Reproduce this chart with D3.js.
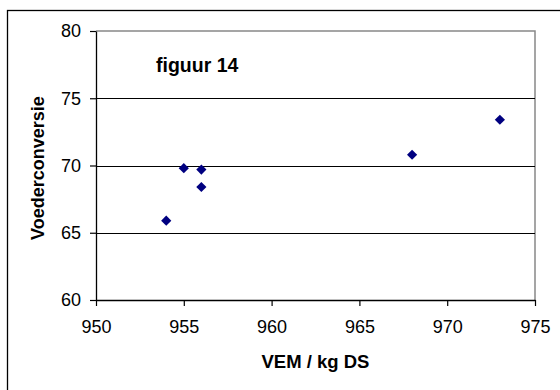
<!DOCTYPE html>
<html>
<head>
<meta charset="utf-8">
<script src="https://cdn.jsdelivr.net/npm/d3@7"></script>
<style>
  body { margin: 0; background: #fff; }
  svg { display: block; font-family: "Liberation Sans", Arial, sans-serif; }
</style>
</head>
<body>
<div id="root"></div>
<script>
// Data (figuur 14)
const vemValues = [954, 955, 956, 956, 968, 973];
const conversieValues = [65.9, 69.8, 69.7, 68.4, 70.8, 73.4];
const xTicks = [950, 955, 960, 965, 970, 975];
const yTicks = [60, 65, 70, 75, 80];
const gridValues = [65, 70, 75];

const width = 560;
const height = 390;
const plot = { left: 96, right: 535, top: 31, bottom: 300 };

const svg = d3.select('#root')
  .append('svg')
  .attr('width', width)
  .attr('height', height);

// outer chart border, runs off the right and bottom edge
svg.append('rect')
  .attr('x', 7.5)
  .attr('y', 10.5)
  .attr('width', 600)
  .attr('height', 420)
  .attr('fill', 'none')
  .attr('stroke', '#000')
  .attr('stroke-width', 1.3);

const x = d3.scaleLinear().domain([950, 975]).range([plot.left, plot.right]);
const y = d3.scaleLinear().domain([60, 80]).range([plot.bottom, plot.top]);

// plot area frame (top & right are grey)
svg.append('path')
  .attr('d', `M${plot.left},${plot.top}H${plot.right}V${plot.bottom}`)
  .attr('fill', 'none')
  .attr('stroke', '#888')
  .attr('stroke-width', 1.5);

// horizontal gridlines
svg.append('g')
  .selectAll('line')
  .data(gridValues)
  .join('line')
  .attr('x1', plot.left)
  .attr('x2', plot.right)
  .attr('y1', d => Math.round(y(d)) + 0.5)
  .attr('y2', d => Math.round(y(d)) + 0.5)
  .attr('stroke', '#000')
  .attr('stroke-width', 1);

const xAxis = svg.append('g')
  .attr('transform', `translate(0, ${plot.bottom})`)
  .call(d3.axisBottom(x).tickValues(xTicks).tickSize(6).tickSizeOuter(0).tickPadding(14));

const yAxis = svg.append('g')
  .attr('transform', `translate(${plot.left}, 0)`)
  .call(d3.axisLeft(y).tickValues(yTicks).tickSize(6).tickSizeOuter(0).tickPadding(9));

[xAxis, yAxis].forEach(axis => {
  axis.select('.domain').attr('stroke', '#000').attr('stroke-width', 1.3);
  axis.selectAll('.tick line').attr('stroke', '#000').attr('stroke-width', 1.2);
  axis.selectAll('.tick text')
    .attr('fill', '#000')
    .style('font-family', '"Liberation Sans", Arial, sans-serif')
    .style('font-size', '18px');
});

// markers: navy diamonds
const diamond = d3.symbol(d3.symbolSquare, 52);
svg.append('g')
  .selectAll('path')
  .data(vemValues.map((v, i) => [v, conversieValues[i]]))
  .join('path')
  .attr('d', diamond)
  .attr('transform', d => `translate(${x(d[0])}, ${y(d[1])}) rotate(45)`)
  .attr('fill', '#000080');

// labels
svg.append('text')
  .attr('x', 156)
  .attr('y', 72)
  .attr('font-size', 19.5)
  .attr('font-weight', 'bold')
  .text('figuur 14');

svg.append('text')
  .attr('transform', `translate(44, 168) rotate(-90)`)
  .attr('text-anchor', 'middle')
  .attr('font-size', 18)
  .attr('font-weight', 'bold')
  .text('Voederconversie');

svg.append('text')
  .attr('x', (plot.left + plot.right) / 2)
  .attr('y', 368)
  .attr('text-anchor', 'middle')
  .attr('font-size', 18.5)
  .attr('font-weight', 'bold')
  .text('VEM / kg DS');
</script>
</body>
</html>
